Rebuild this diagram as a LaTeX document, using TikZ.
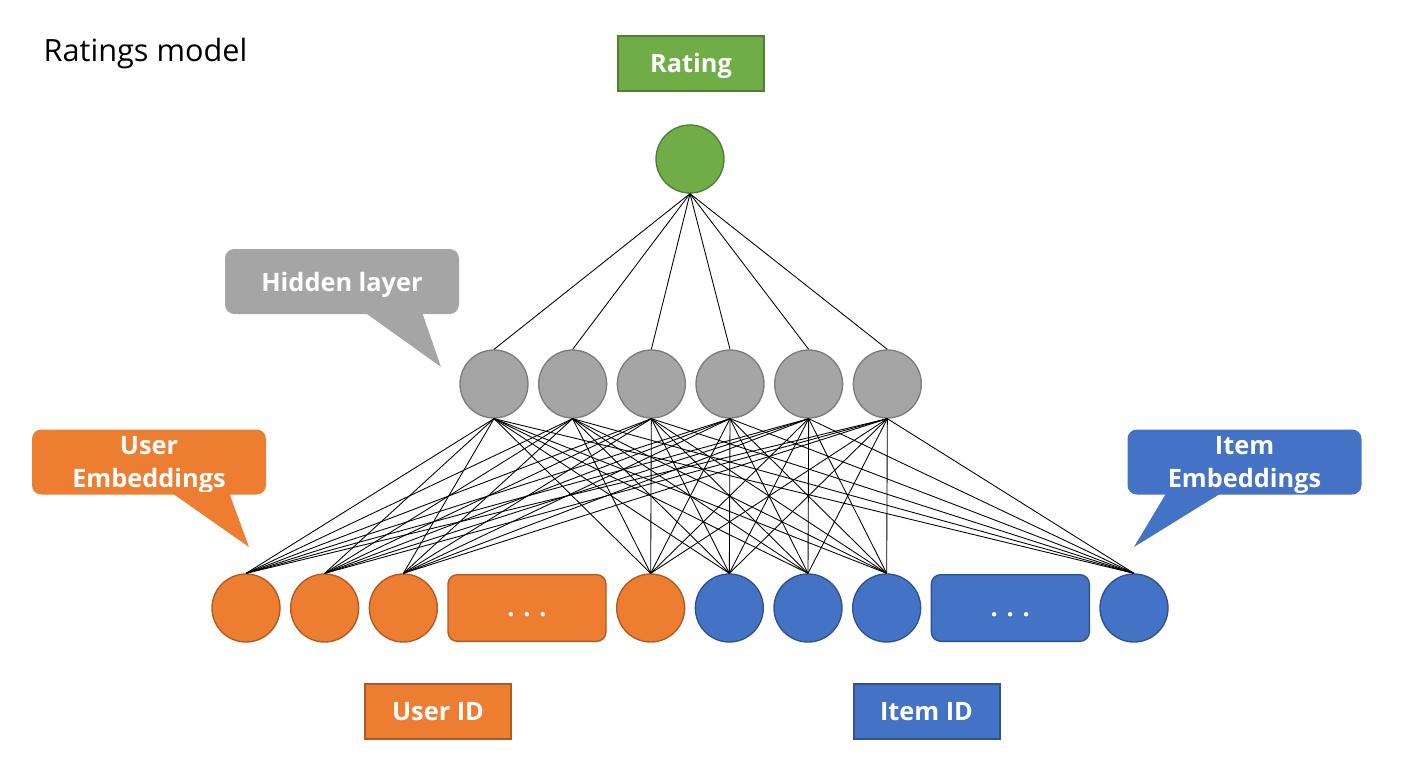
\documentclass[tikz,border=0pt]{standalone}
\usepackage{fontspec}
\setmainfont{Open Sans}
\usetikzlibrary{positioning,calc}

\definecolor{ratgreen}{HTML}{70AD47}
\definecolor{ratgreenline}{HTML}{507E32}
\definecolor{hidgray}{HTML}{A5A5A5}
\definecolor{hidgrayline}{HTML}{7C7C7C}
\definecolor{userorange}{HTML}{ED7D31}
\definecolor{userorangeline}{HTML}{AE5A21}
\definecolor{itemblue}{HTML}{4472C4}
\definecolor{itemblueline}{HTML}{2F528F}

\begin{document}
\begin{tikzpicture}[x=0.75pt,y=-0.75pt,node distance=7pt,
  unit/.style={circle,draw,line width=1pt,minimum size=51pt,inner sep=0pt},
  dotsbox/.style={rectangle,draw,line width=1pt,rounded corners=7pt,
    minimum width=118.5pt,minimum height=50pt,text=white,
    text height=12pt,text depth=0pt,
    font=\fontsize{19}{25}\selectfont\bfseries},
  labelbox/.style={rectangle,draw,line width=1.5pt,minimum width=109.5pt,
    minimum height=41.25pt,text=white,text height=13.6pt,text depth=0pt,
    font=\fontsize{19}{25}\selectfont\bfseries},
  callout/.style={rectangle,rounded corners=7pt,minimum width=175.5pt,
    minimum height=48.75pt,align=center,text=white,inner sep=0pt,
    text depth=0pt,font=\fontsize{19}{25}\selectfont\bfseries},
  conn/.style={draw,black,line width=0.65pt}]
  \useasboundingbox (0,0) rectangle (1425,775);

  \node (title) [anchor=base west,font=\fontsize{23}{28}\selectfont] at (39,61) {Ratings model};

  % output
  \node (rating) [labelbox,fill=ratgreen,draw=ratgreenline] at (691,63.5) {Rating};
  \node (out) [unit,fill=ratgreen,draw=ratgreenline] at (690,159) {};

  % hidden layer
  \node (h1) [unit,fill=hidgray,draw=hidgrayline] at (494,384) {};
  \node (h2) [unit,fill=hidgray,draw=hidgrayline,right=of h1] {};
  \node (h3) [unit,fill=hidgray,draw=hidgrayline,right=of h2] {};
  \node (h4) [unit,fill=hidgray,draw=hidgrayline,right=of h3] {};
  \node (h5) [unit,fill=hidgray,draw=hidgrayline,right=of h4] {};
  \node (h6) [unit,fill=hidgray,draw=hidgrayline,right=of h5] {};

  % embeddings
  \node (u1) [unit,fill=userorange,draw=userorangeline] at (246,608) {};
  \node (u2) [unit,fill=userorange,draw=userorangeline,right=of u1] {};
  \node (u3) [unit,fill=userorange,draw=userorangeline,right=of u2] {};
  \node (udots) [dotsbox,fill=userorange,draw=userorangeline,right=of u3] {. . .};
  \node (u4) [unit,fill=userorange,draw=userorangeline,right=of udots] {};
  \node (i1) [unit,fill=itemblue,draw=itemblueline,right=of u4] {};
  \node (i2) [unit,fill=itemblue,draw=itemblueline,right=of i1] {};
  \node (i3) [unit,fill=itemblue,draw=itemblueline,right=of i2] {};
  \node (idots) [dotsbox,fill=itemblue,draw=itemblueline,right=of i3] {. . .};
  \node (i4) [unit,fill=itemblue,draw=itemblueline,right=of idots] {};

  % inputs
  \node (userid) [labelbox,fill=userorange,draw=userorangeline] at (438,711.5) {User ID};
  \node (itemid) [labelbox,fill=itemblue,draw=itemblueline] at (926.5,711.5) {Item ID};

  % callouts
  \node (hl) [callout,fill=hidgray] at (342,281.5) {Hidden layer};
  \coordinate (hltip) at (441,367);
  \fill[hidgray] ($(hl.south west)!0.59!(hl.south east)+(0,-3)$)
    -- ($(hl.south west)!0.84!(hl.south east)+(0,-3)$) -- (hltip) -- cycle;

  \node (ue) [callout,fill=userorange] at (149,462) {User\\Embeddings};
  \coordinate (uetip) at (249,547);
  \fill[userorange] ($(ue.south west)!0.59!(ue.south east)+(0,-3)$)
    -- ($(ue.south west)!0.84!(ue.south east)+(0,-3)$) -- (uetip) -- cycle;

  \node (ie) [callout,fill=itemblue] at (1244.5,462) {Item\\Embeddings};
  \coordinate (ietip) at (1134,547);
  \fill[itemblue] ($(ie.south west)!0.17!(ie.south east)+(0,-3)$)
    -- ($(ie.south west)!0.41!(ie.south east)+(0,-3)$) -- (ietip) -- cycle;

  \path[conn]
    (h1.north) edge (out.south)
    (h2.north) edge (out.south)
    (h3.north) edge (out.south)
    (h4.north) edge (out.south)
    (h5.north) edge (out.south)
    (h6.north) edge (out.south);
  \foreach \h in {h1,h2,h3,h4,h5,h6}
    \foreach \e in {u1,u2,u3,u4,i1,i2,i3,i4}
      \path[conn] (\h.south) -- (\e.north);
\end{tikzpicture}
\end{document}
